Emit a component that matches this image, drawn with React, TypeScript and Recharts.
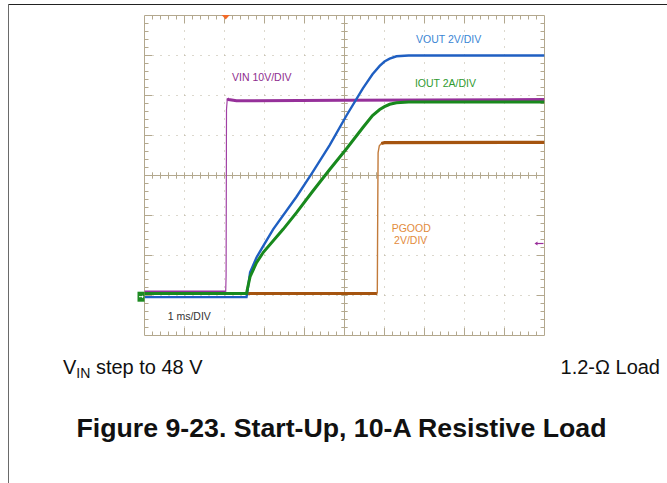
import React from 'react';
import { LineChart, Line, XAxis, YAxis, ReferenceLine, ReferenceDot } from 'recharts';

// ---- Data (time in divisions of 1 ms, level in screen divisions from bottom) ----
const vinTime = [0, 2.03, 2.04, 2.05, 2.07, 2.1, 2.3, 5.0, 10];
const vinLevel = [1.09, 1.09, 1.5, 5.65, 5.92, 5.9, 5.87, 5.88, 5.9];

const voutTime = [0, 2.55, 2.58, 2.64, 2.8, 2.97, 3.22, 3.8, 4.2, 4.63, 5.05, 5.46, 5.7, 5.88, 6.0, 6.13, 6.3, 6.6, 10];
const voutLevel = [0.96, 0.96, 1.15, 1.58, 1.95, 2.24, 2.66, 3.47, 4.08, 4.76, 5.5, 6.18, 6.53, 6.74, 6.85, 6.92, 6.98, 7.0, 7.0];

const ioutTime = [0, 2.55, 2.58, 2.64, 2.8, 2.97, 3.47, 3.8, 4.2, 4.63, 5.05, 5.46, 5.7, 5.88, 6.0, 6.13, 6.3, 6.6, 10];
const ioutLevel = [1.05, 1.05, 1.2, 1.47, 1.82, 2.08, 2.66, 3.07, 3.6, 4.15, 4.67, 5.2, 5.5, 5.65, 5.72, 5.78, 5.82, 5.84, 5.84];

const pgoodTime = [0, 5.82, 5.83, 5.84, 5.87, 5.92, 6.0, 10];
const pgoodLevel = [1.05, 1.05, 3.0, 4.57, 4.74, 4.8, 4.82, 4.83];

const xDivs = 10;
const yDivs = 8;
const minorStep = 0.2;

const labels = [
  { text: 'VOUT 2V/DIV', t: 6.79, v: 7.31, color: '#3b86d4' },
  { text: 'IOUT 2A/DIV', t: 6.76, v: 6.22, color: '#2f9a2f' },
  { text: 'VIN 10V/DIV', t: 2.19, v: 6.375, color: '#8e2d8e' },
  { text: 'PGOOD', t: 6.18, v: 2.6, color: '#e38b3c' },
  { text: '2V/DIV', t: 6.24, v: 2.28, color: '#e38b3c' },
  { text: '1 ms/DIV', t: 0.58, v: 0.38, color: '#333333' },
];

const triggerT = 2.03;
const groundLevel = 0.97;
const refArrowLevel = 2.3;

// ---- helpers ----
function pts(ts: number[], vs: number[], from = 0, to = ts.length - 1) {
  const out: { t: number; v: number }[] = [];
  for (let i = from; i <= to; i++) out.push({ t: ts[i], v: vs[i] });
  return out;
}

const gridColor = '#b3a88e';
const dotColor = '#b9b09b';
const FONT = 'Arial, "Liberation Sans", Helvetica, sans-serif';

const minorX: number[] = [];
for (let k = 1; k < xDivs / minorStep; k++) minorX.push(+(k * minorStep).toFixed(2));
const minorY: number[] = [];
for (let k = 1; k < yDivs / minorStep; k++) minorY.push(+(k * minorStep).toFixed(2));
const majorXs: number[] = [];
for (let k = 1; k < xDivs; k++) if (k !== xDivs / 2) majorXs.push(k);
const majorYs: number[] = [];
for (let k = 1; k < yDivs; k++) if (k !== yDivs / 2) majorYs.push(k);

const isMajor = (p: number) => Math.abs(p - Math.round(p)) < 1e-6;

const frameMinor = 0.1;
const frameMajor = 0.19;
const centerHalf = 0.08;

export default function App() {
  const tickEls: React.ReactNode[] = [];
  minorX.forEach((x, i) => {
    const len = isMajor(x) ? frameMajor : frameMinor;
    tickEls.push(
      <ReferenceLine key={`tt${i}`} segment={[{ x, y: yDivs }, { x, y: yDivs - len }]} stroke={gridColor} ifOverflow="visible" />,
      <ReferenceLine key={`tb${i}`} segment={[{ x, y: 0 }, { x, y: len }]} stroke={gridColor} ifOverflow="visible" />,
      <ReferenceLine key={`tc${i}`} segment={[{ x, y: yDivs / 2 - centerHalf }, { x, y: yDivs / 2 + centerHalf }]} stroke={gridColor} ifOverflow="visible" />,
    );
  });
  minorY.forEach((y, i) => {
    const len = isMajor(y) ? frameMajor : frameMinor;
    tickEls.push(
      <ReferenceLine key={`tl${i}`} segment={[{ x: 0, y }, { x: len, y }]} stroke={gridColor} ifOverflow="visible" />,
      <ReferenceLine key={`tr${i}`} segment={[{ x: xDivs, y }, { x: xDivs - len, y }]} stroke={gridColor} ifOverflow="visible" />,
      <ReferenceLine key={`tm${i}`} segment={[{ x: xDivs / 2 - centerHalf, y }, { x: xDivs / 2 + centerHalf, y }]} stroke={gridColor} ifOverflow="visible" />,
    );
  });

  return (
    <div style={{ position: 'absolute', left: 0, top: 0, width: 667, height: 483, background: '#fff', overflow: 'hidden' }}>
      {/* page frame lines */}
      <div style={{ position: 'absolute', left: 8, top: 4, width: 659, height: 1, background: '#222' }} />
      <div style={{ position: 'absolute', left: 8, top: 4, width: 1, height: 479, background: '#6a6a6a' }} />

      <LineChart
        width={667}
        height={483}
        margin={{ top: 15.5, left: 144.5, right: 122.5, bottom: 147.5 }}
        style={{ position: 'absolute', left: 0, top: 0 }}
      >
        <XAxis type="number" dataKey="t" domain={[0, xDivs]} hide allowDataOverflow />
        <YAxis type="number" dataKey="v" domain={[0, yDivs]} hide allowDataOverflow />

        {majorXs.map((x) => (
          <ReferenceLine key={`dx${x}`} x={x} stroke={dotColor} strokeDasharray="1 7" />
        ))}
        {majorYs.map((y) => (
          <ReferenceLine key={`dy${y}`} y={y} stroke={dotColor} strokeDasharray="1 7" />
        ))}
        <ReferenceLine x={0} stroke={gridColor} />
        <ReferenceLine x={xDivs} stroke={gridColor} />
        <ReferenceLine y={0} stroke={gridColor} />
        <ReferenceLine y={yDivs} stroke={gridColor} />
        <ReferenceLine x={xDivs / 2} stroke={gridColor} />
        <ReferenceLine y={yDivs / 2} stroke={gridColor} />
        {tickEls}

        {/* PGOOD */}
        <Line data={pts(pgoodTime, pgoodLevel, 0, 1)} dataKey="v" stroke="#a5540f" strokeWidth={3.2} dot={false} isAnimationActive={false} />
        <Line data={pts(pgoodTime, pgoodLevel, 1, 6)} dataKey="v" stroke="#c27a3a" strokeWidth={1.4} dot={false} isAnimationActive={false} />
        <Line data={pts(pgoodTime, pgoodLevel, 5, pgoodTime.length - 1)} dataKey="v" stroke="#a5540f" strokeWidth={3.2} dot={false} isAnimationActive={false} />

        {/* VIN */}
        <Line data={pts(vinTime, vinLevel, 0, 1)} dataKey="v" stroke="#96309a" strokeWidth={3} dot={false} isAnimationActive={false} />
        <Line data={pts(vinTime, vinLevel, 1, 5)} dataKey="v" stroke="#a040a4" strokeWidth={1.2} dot={false} isAnimationActive={false} />
        <Line data={pts(vinTime, vinLevel, 4, vinTime.length - 1)} dataKey="v" stroke="#96309a" strokeWidth={3} dot={false} isAnimationActive={false} />

        {/* VOUT */}
        <Line data={pts(voutTime, voutLevel)} dataKey="v" stroke="#1f5fc2" strokeWidth={2.4} dot={false} isAnimationActive={false} />

        {/* IOUT */}
        <Line data={pts(ioutTime, ioutLevel)} dataKey="v" stroke="#18891d" strokeWidth={3} dot={false} isAnimationActive={false} />

        {/* trigger marker */}
        <ReferenceDot
          x={triggerT}
          y={yDivs}
          r={0}
          ifOverflow="visible"
          shape={(p: any) => (
            <path d={`M${p.cx - 4},${p.cy - 0.5} L${p.cx + 4},${p.cy - 0.5} L${p.cx},${p.cy + 4} Z`} fill="#f26a28" />
          )}
        />
        {/* ground marker */}
        <ReferenceDot
          x={0}
          y={groundLevel}
          r={0}
          ifOverflow="visible"
          shape={(p: any) => (
            <g>
              <rect x={p.cx - 7} y={p.cy - 5} width={7} height={10} fill="#1d8a22" />
              <path d={`M${p.cx - 5.5},${p.cy} L${p.cx - 1.5},${p.cy}`} stroke="#fff" strokeWidth={1} />
              <path d={`M${p.cx - 2.5},${p.cy - 1.5} L${p.cx - 0.8},${p.cy} L${p.cx - 2.5},${p.cy + 1.5} Z`} fill="#fff" />
            </g>
          )}
        />
        {/* reference arrow right */}
        <ReferenceDot
          x={xDivs}
          y={refArrowLevel}
          r={0}
          ifOverflow="visible"
          shape={(p: any) => (
            <g>
              <path d={`M${p.cx - 8},${p.cy} L${p.cx - 1},${p.cy}`} stroke="#9a2e9a" strokeWidth={1.2} />
              <path d={`M${p.cx - 10},${p.cy} L${p.cx - 7},${p.cy - 2} L${p.cx - 7},${p.cy + 2} Z`} fill="#9a2e9a" />
            </g>
          )}
        />

        {labels.map((l, i) => (
          <ReferenceDot
            key={`lab${i}`}
            x={l.t}
            y={l.v}
            r={0}
            ifOverflow="visible"
            shape={(p: any) => (
              <text x={p.cx} y={p.cy} fill={l.color} fontSize={10.5} fontFamily={FONT}>
                {l.text}
              </text>
            )}
          />
        ))}
      </LineChart>

      {/* captions */}
      <div style={{ position: 'absolute', left: 63, top: 355, fontFamily: FONT, fontSize: 20, color: '#111', lineHeight: '24px', whiteSpace: 'nowrap' }}>
        V<sub style={{ fontSize: 14, verticalAlign: '-4px', lineHeight: 0 }}>IN</sub> step to 48 V
      </div>
      <div style={{ position: 'absolute', right: 7, top: 355, fontFamily: FONT, fontSize: 20, color: '#111', lineHeight: '24px', whiteSpace: 'nowrap' }}>
        1.2-Ω Load
      </div>
      <div style={{ position: 'absolute', left: 0, width: 667, top: 413, textAlign: 'center', fontFamily: FONT, fontSize: 26.7, fontWeight: 'bold', color: '#111', lineHeight: '30px', whiteSpace: 'nowrap' }}>
        <span style={{ position: 'relative', left: 8 }}>Figure 9-23. Start-Up, 10-A Resistive Load</span>
      </div>
    </div>
  );
}
